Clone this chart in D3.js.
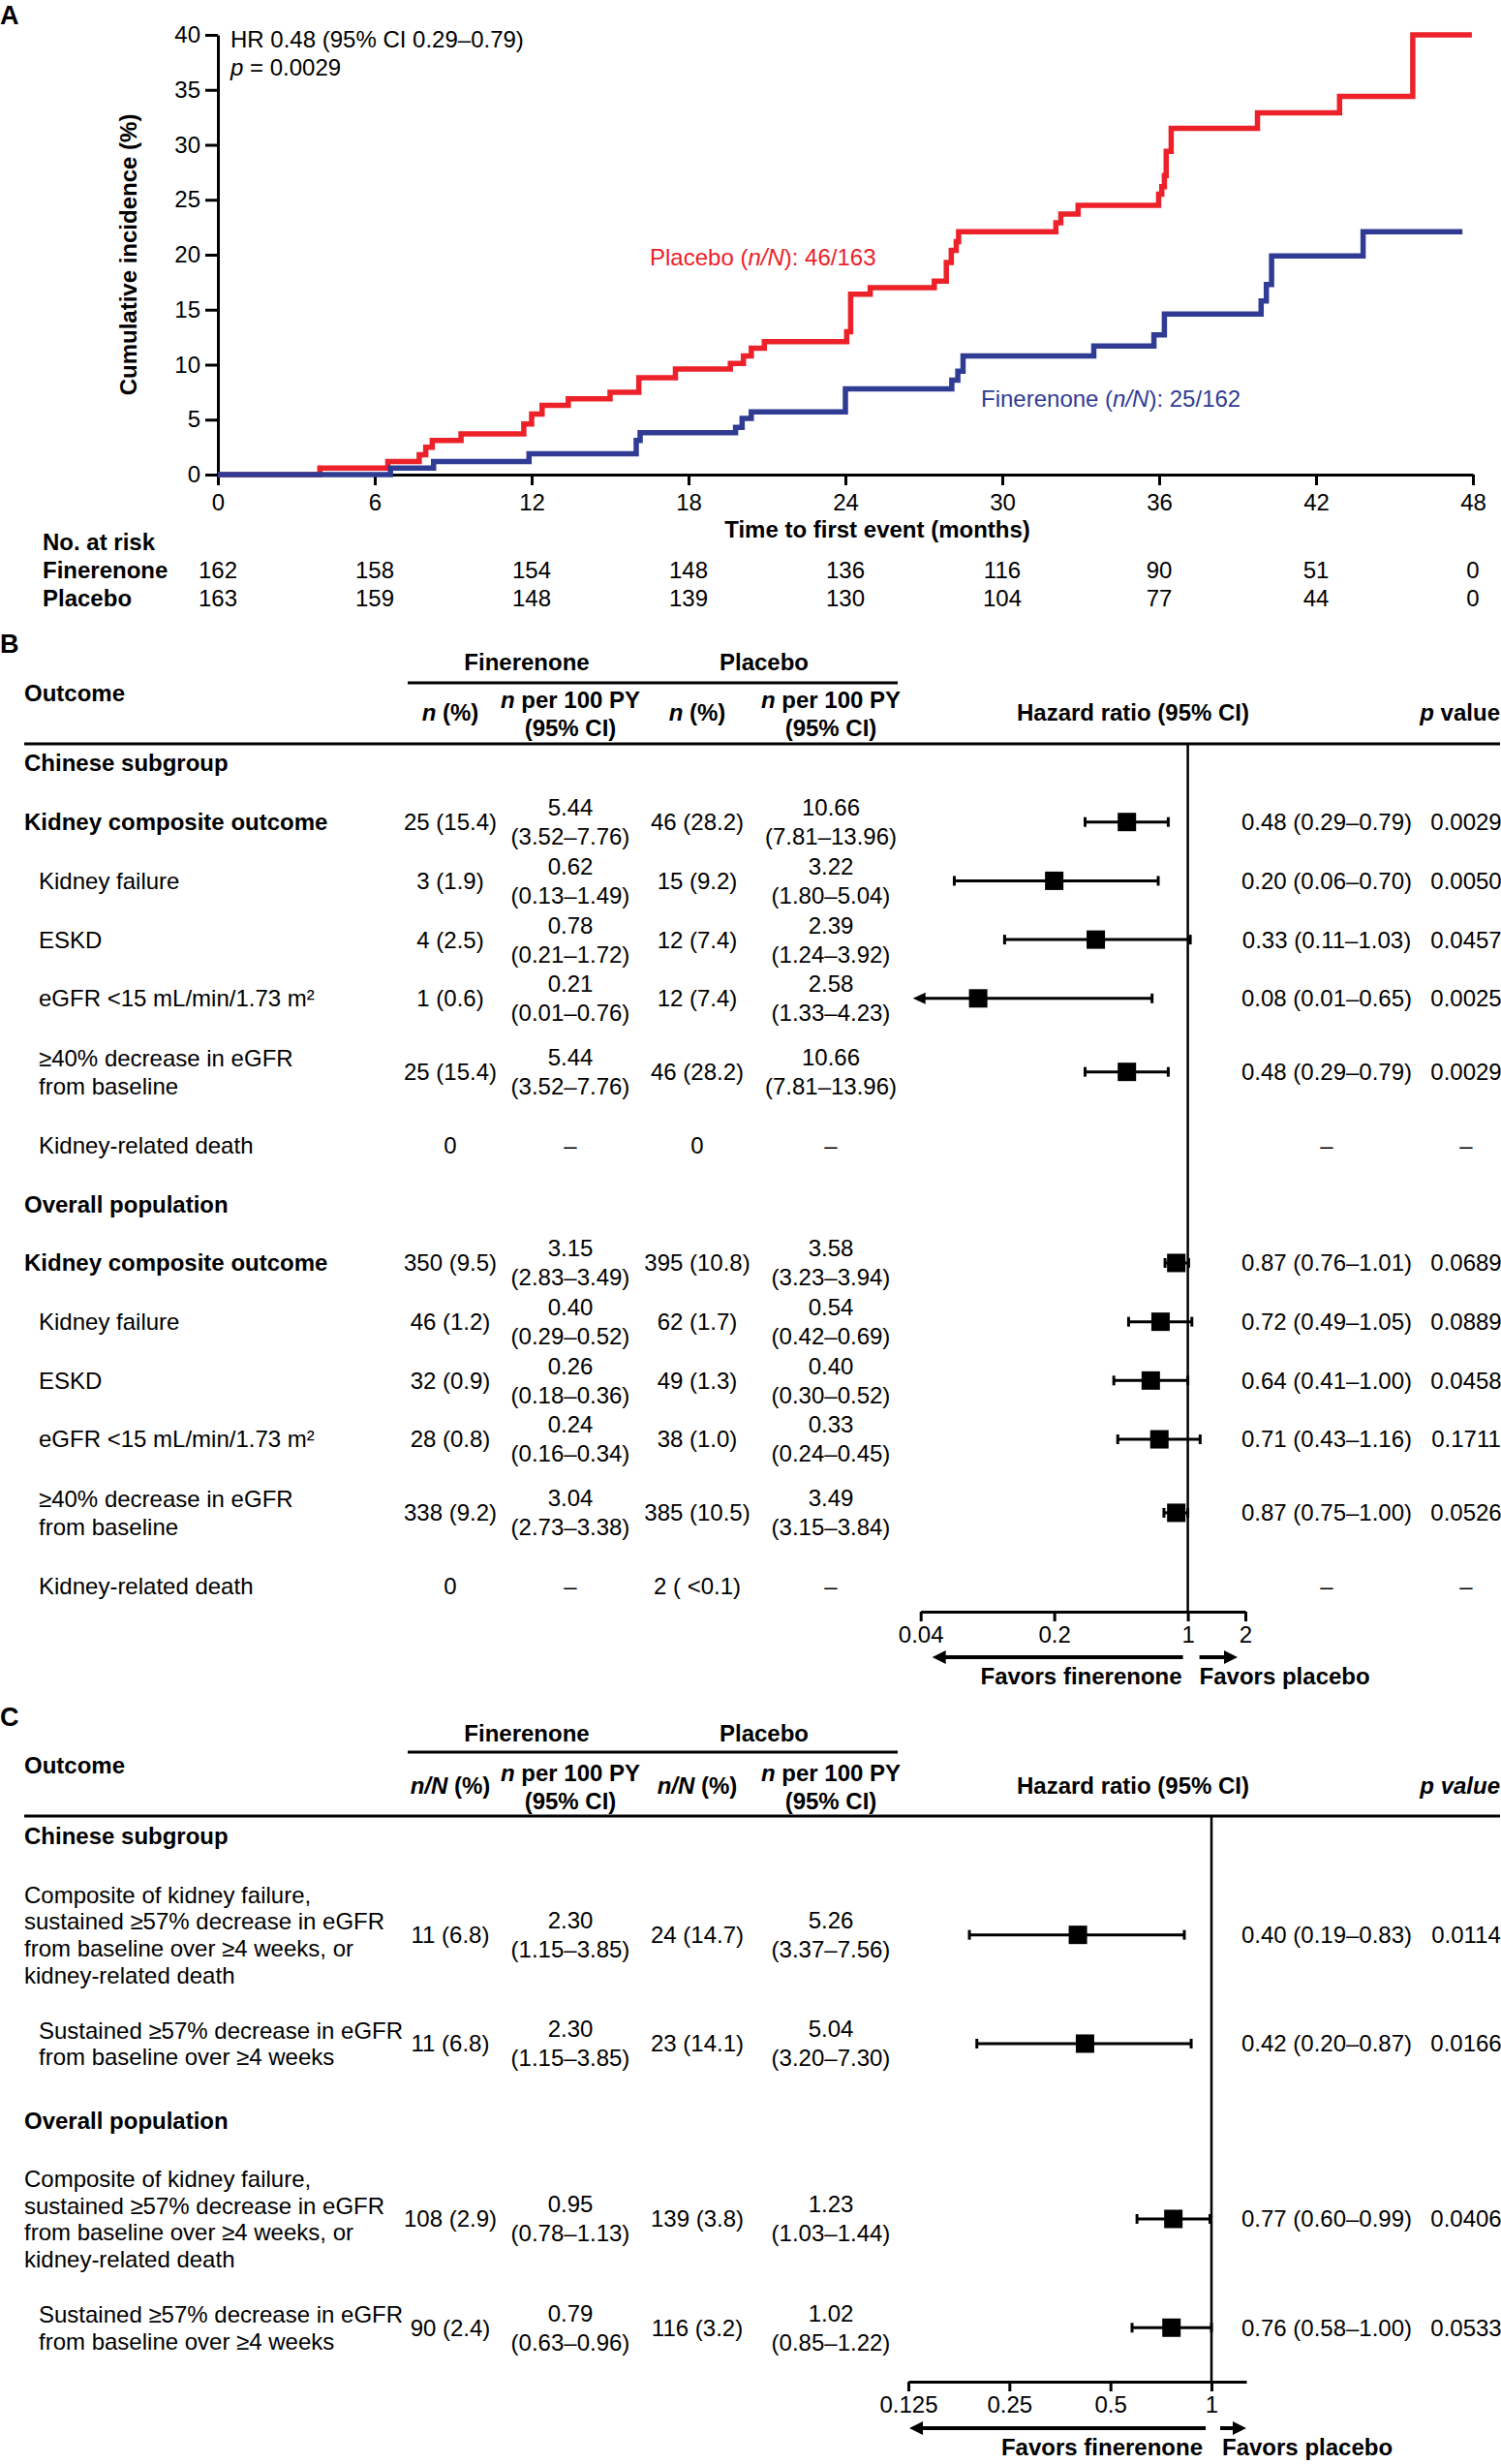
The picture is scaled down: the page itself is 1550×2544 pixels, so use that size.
<!DOCTYPE html>
<html><head><meta charset="utf-8">
<script src="https://cdn.jsdelivr.net/npm/d3@7"></script>
<style>
html,body{margin:0;padding:0;background:#fff;}
svg{display:block;font-family:"Liberation Sans",Arial,Helvetica,sans-serif;}
</style></head><body>
<svg id="chart" width="1550" height="2544"></svg>
<script>
// ================= DATA =================
// Panel A – Kaplan–Meier cumulative incidence
const kmMonthTicks = [0, 6, 12, 18, 24, 30, 36, 42, 48];
const kmPctTicks = [0, 5, 10, 15, 20, 25, 30, 35, 40];
const placeboTime = [0, 3.9, 6.5, 7.7, 7.95, 8.2, 9.3, 11.7, 12.0, 12.4, 13.4, 15.0, 16.1, 17.5, 19.6, 20.1, 20.4, 20.9,
  24.05, 24.2, 24.95, 27.4, 27.86, 28.05, 28.24, 28.33, 32.05, 32.24, 32.9, 35.98, 36.1, 36.2, 36.27, 36.46, 39.76, 42.9, 45.7];
const placeboCum = [0, 0.6, 1.2, 1.8, 2.5, 3.1, 3.7, 4.6, 5.5, 6.3, 6.9, 7.5, 8.8, 9.6, 10.1, 10.8, 11.5, 12.1,
  13.0, 16.4, 17.0, 17.6, 19.3, 20.4, 21.2, 22.1, 22.9, 23.7, 24.5, 25.5, 26.2, 27.2, 29.4, 31.5, 32.9, 34.4, 40.0];
const placeboEnd = 47.96;
const finerenoneTime = [0, 6.6, 8.25, 11.9, 16.0, 16.15, 19.8, 20.05, 20.4, 24.0, 28.07, 28.3, 28.5, 33.5, 35.8, 36.2, 39.9, 40.1, 40.3, 43.8];
const finerenoneCum = [0, 0.6, 1.2, 1.9, 3.1, 3.8, 4.3, 5.1, 5.7, 7.8, 8.6, 9.4, 10.8, 11.7, 12.7, 14.6, 15.8, 17.3, 19.9, 22.1];
const finerenoneEnd = 47.6;
const riskFinerenone = [162, 158, 154, 148, 136, 116, 90, 51, 0];
const riskPlacebo = [163, 159, 148, 139, 130, 104, 77, 44, 0];
const kmHRText = "HR 0.48 (95% CI 0.29–0.79)";
const kmPText = "0.0029";
const placeboNN = "46/163";
const finerenoneNN = "25/162";

// Panel B – kidney outcomes
const bGroups = ["Chinese subgroup", "Overall population"];
const bGroup = [0, 0, 0, 0, 0, 0, 1, 1, 1, 1, 1, 1];
const bKind = ["composite", "component", "component", "component", "component", "component",
               "composite", "component", "component", "component", "component", "component"];
const bLabel = ["Kidney composite outcome", "Kidney failure", "ESKD", "eGFR <15 mL/min/1.73 m²", "≥40% decrease in eGFR\nfrom baseline", "Kidney-related death",
                "Kidney composite outcome", "Kidney failure", "ESKD", "eGFR <15 mL/min/1.73 m²", "≥40% decrease in eGFR\nfrom baseline", "Kidney-related death"];
const bFinN = ["25 (15.4)", "3 (1.9)", "4 (2.5)", "1 (0.6)", "25 (15.4)", "0", "350 (9.5)", "46 (1.2)", "32 (0.9)", "28 (0.8)", "338 (9.2)", "0"];
const bFinRate = ["5.44", "0.62", "0.78", "0.21", "5.44", "–", "3.15", "0.40", "0.26", "0.24", "3.04", "–"];
const bFinRateCI = ["3.52–7.76", "0.13–1.49", "0.21–1.72", "0.01–0.76", "3.52–7.76", "", "2.83–3.49", "0.29–0.52", "0.18–0.36", "0.16–0.34", "2.73–3.38", ""];
const bPlaN = ["46 (28.2)", "15 (9.2)", "12 (7.4)", "12 (7.4)", "46 (28.2)", "0", "395 (10.8)", "62 (1.7)", "49 (1.3)", "38 (1.0)", "385 (10.5)", "2 ( <0.1)"];
const bPlaRate = ["10.66", "3.22", "2.39", "2.58", "10.66", "–", "3.58", "0.54", "0.40", "0.33", "3.49", "–"];
const bPlaRateCI = ["7.81–13.96", "1.80–5.04", "1.24–3.92", "1.33–4.23", "7.81–13.96", "", "3.23–3.94", "0.42–0.69", "0.30–0.52", "0.24–0.45", "3.15–3.84", ""];
const bHR = [0.48, 0.20, 0.33, 0.08, 0.48, null, 0.87, 0.72, 0.64, 0.71, 0.87, null];
const bLo = [0.29, 0.06, 0.11, 0.01, 0.29, null, 0.76, 0.49, 0.41, 0.43, 0.75, null];
const bHi = [0.79, 0.70, 1.03, 0.65, 0.79, null, 1.01, 1.05, 1.00, 1.16, 1.00, null];
const bP = ["0.0029", "0.0050", "0.0457", "0.0025", "0.0029", "–", "0.0689", "0.0889", "0.0458", "0.1711", "0.0526", "–"];
const bTicks = [0.04, 0.2, 1, 2];

// Panel C – 57% eGFR composite
const cGroups = ["Chinese subgroup", "Overall population"];
const cGroup = [0, 0, 1, 1];
const cKind = ["composite", "component", "composite", "component"];
const cLabel = ["Composite of kidney failure,\nsustained ≥57% decrease in eGFR\nfrom baseline over ≥4 weeks, or\nkidney-related death",
                "Sustained ≥57% decrease in eGFR\nfrom baseline over ≥4 weeks",
                "Composite of kidney failure,\nsustained ≥57% decrease in eGFR\nfrom baseline over ≥4 weeks, or\nkidney-related death",
                "Sustained ≥57% decrease in eGFR\nfrom baseline over ≥4 weeks"];
const cFinN = ["11 (6.8)", "11 (6.8)", "108 (2.9)", "90 (2.4)"];
const cFinRate = ["2.30", "2.30", "0.95", "0.79"];
const cFinRateCI = ["1.15–3.85", "1.15–3.85", "0.78–1.13", "0.63–0.96"];
const cPlaN = ["24 (14.7)", "23 (14.1)", "139 (3.8)", "116 (3.2)"];
const cPlaRate = ["5.26", "5.04", "1.23", "1.02"];
const cPlaRateCI = ["3.37–7.56", "3.20–7.30", "1.03–1.44", "0.85–1.22"];
const cHR = [0.40, 0.42, 0.77, 0.76];
const cLo = [0.19, 0.20, 0.60, 0.58];
const cHi = [0.83, 0.87, 0.99, 1.00];
const cP = ["0.0114", "0.0166", "0.0406", "0.0533"];
const cTicks = [0.125, 0.25, 0.5, 1];

// ================= DRAWING =================
const RED = "#ec2129", BLUE = "#303c94";
const FS = 24;
const svg = d3.select("#chart");
svg.append("rect").attr("width", 1550).attr("height", 2544).attr("fill", "#fff");

function addText(g, x, y, parts, opts = {}) {
  const t = g.append("text").attr("x", x).attr("y", y).attr("dy", "0.35em")
    .attr("font-size", opts.size || FS)
    .attr("text-anchor", opts.anchor || "start")
    .attr("font-weight", opts.bold ? "bold" : "normal")
    .attr("fill", opts.fill || "#000");
  if (typeof parts === "string") t.text(parts);
  else parts.forEach(p => { const s = t.append("tspan").text(p[0]); if (p[1]) s.attr("font-style", "italic"); });
  return t;
}
function styleAxis(a) {
  a.attr("font-size", FS).attr("font-family", null);
  a.selectAll("path,line").attr("stroke", "#000").attr("stroke-width", 3);
  a.selectAll("text").attr("fill", "#000");
}

// ---------- Panel A ----------
(function () {
  const g = svg.append("g");
  const x = d3.scaleLinear().domain([0, 48]).range([225, 1521]);
  const y = d3.scaleLinear().domain([0, 40]).range([490, 36]);
  addText(g, 0, 16, "A", { bold: true, size: 27 });

  const yAx = g.append("g").attr("transform", `translate(${x(0)},0)`)
    .call(d3.axisLeft(y).tickValues(kmPctTicks).tickSize(13).tickPadding(5).tickSizeOuter(0));
  const xAx = g.append("g").attr("transform", `translate(0,${y(0)})`)
    .call(d3.axisBottom(x).tickValues(kmMonthTicks).tickSize(11).tickPadding(9).tickSizeOuter(0));
  styleAxis(yAx); styleAxis(xAx);

  const step = d3.line().x(d => x(d[0])).y(d => y(d[1])).curve(d3.curveStepAfter);
  const pl = placeboTime.map((t, i) => [t, placeboCum[i]]);
  pl.push([placeboEnd, placeboCum[placeboCum.length - 1]]);
  const fi = finerenoneTime.map((t, i) => [t, finerenoneCum[i]]);
  fi.push([finerenoneEnd, finerenoneCum[finerenoneCum.length - 1]]);
  g.append("path").attr("d", step(pl)).attr("fill", "none").attr("stroke", RED).attr("stroke-width", 5.5).attr("stroke-linejoin", "miter");
  g.append("path").attr("d", step(fi)).attr("fill", "none").attr("stroke", BLUE).attr("stroke-width", 5.5).attr("stroke-linejoin", "miter");

  addText(g, 238, 41, kmHRText);
  addText(g, 238, 70, [["p", true], [" = " + kmPText, false]]);
  addText(g, 671, 266, [["Placebo (", false], ["n/N", true], ["): " + placeboNN, false]], { fill: RED });
  addText(g, 1013, 412, [["Finerenone (", false], ["n/N", true], ["): " + finerenoneNN, false]], { fill: BLUE });

  g.append("text").attr("transform", `translate(133,${(y(0) + y(40)) / 2}) rotate(-90)`)
    .attr("dy", "0.35em").attr("text-anchor", "middle").attr("font-weight", "bold").attr("font-size", FS)
    .text("Cumulative incidence (%)");
  addText(g, 906, 547, "Time to first event (months)", { bold: true, anchor: "middle" });

  addText(g, 44, 560, "No. at risk", { bold: true });
  addText(g, 44, 589, "Finerenone", { bold: true });
  addText(g, 44, 618, "Placebo", { bold: true });
  kmMonthTicks.forEach((m, i) => {
    addText(g, x(m), 589, String(riskFinerenone[i]), { anchor: "middle" });
    addText(g, x(m), 618, String(riskPlacebo[i]), { anchor: "middle" });
  });
})();

// ---------- Forest panels ----------
function drawForest(cfg, d) {
  const g = svg.append("g");
  const L = cfg.layout;
  addText(g, 0, L.letterY, cfg.letter, { bold: true, size: 27 });
  addText(g, 544, L.armY, "Finerenone", { bold: true, anchor: "middle" });
  addText(g, 789, L.armY, "Placebo", { bold: true, anchor: "middle" });
  g.append("line").attr("x1", 421).attr("x2", 927).attr("y1", L.underlineY).attr("y2", L.underlineY)
    .attr("stroke", "#000").attr("stroke-width", 3);
  addText(g, 25, L.outcomeY, "Outcome", { bold: true });
  [465, 720].forEach(xx => addText(g, xx, L.colY, cfg.nHead, { bold: true, anchor: "middle" }));
  [589, 858].forEach(xx => {
    addText(g, xx, L.colY - 13.5, [["n", true], [" per 100 PY", false]], { bold: true, anchor: "middle" });
    addText(g, xx, L.colY + 15.5, "(95% CI)", { bold: true, anchor: "middle" });
  });
  addText(g, 1170, L.colY, "Hazard ratio (95% CI)", { bold: true, anchor: "middle" });
  addText(g, 1549, L.colY, cfg.pHead, { bold: true, anchor: "end" });
  g.append("line").attr("x1", 25).attr("x2", 1549).attr("y1", L.headLineY).attr("y2", L.headLineY)
    .attr("stroke", "#000").attr("stroke-width", 3);

  // build row sequence
  const seq = [];
  d.groups.forEach((gn, gi) => {
    seq.push({ type: "group", text: gn });
    d.group.forEach((gg, i) => { if (gg === gi) seq.push({ type: "row", i: i, lines: d.label[i].split("\n") }); });
  });
  const hOf = s => s.type === "group" ? 1 : cfg.hBase + 0.5 * s.lines.length;
  let yy = L.startY;
  seq.forEach((s, k) => {
    if (k > 0) {
      yy += L.unit * (hOf(seq[k - 1]) + hOf(s)) / 2;
      if (s.type === "group") yy += cfg.groupGap;
    }
    s.y = yy;
  });

  const x = cfg.scale;
  const axisY = L.axisY;
  // reference line at HR = 1
  g.append("line").attr("x1", x(1)).attr("x2", x(1)).attr("y1", L.headLineY).attr("y2", axisY)
    .attr("stroke", "#000").attr("stroke-width", 2.5);

  const f2 = d3.format(".2f");
  seq.forEach(s => {
    if (s.type === "group") { addText(g, 25, s.y, s.text, { bold: true }); return; }
    const i = s.i;
    const main = d.kind[i] === "composite";
    const lx = main ? 25 : 40;
    const n = s.lines.length;
    s.lines.forEach((ln, j) => addText(g, lx, s.y + (j - (n - 1) / 2) * cfg.lineGap, ln, { bold: main && cfg.boldComposite }));
    addText(g, 465, s.y, d.finN[i], { anchor: "middle" });
    addText(g, 720, s.y, d.plaN[i], { anchor: "middle" });
    [[589, d.finRate[i], d.finRateCI[i]], [858, d.plaRate[i], d.plaRateCI[i]]].forEach(([cx, r, ci]) => {
      if (ci) {
        addText(g, cx, s.y - 15, r, { anchor: "middle" });
        addText(g, cx, s.y + 15, "(" + ci + ")", { anchor: "middle" });
      } else addText(g, cx, s.y, r, { anchor: "middle" });
    });
    const hr = d.hr[i];
    addText(g, 1370, s.y, hr == null ? "–" : `${f2(hr)} (${f2(d.lo[i])}–${f2(d.hi[i])})`, { anchor: "middle" });
    addText(g, 1514, s.y, d.p[i], { anchor: "middle" });
    if (hr == null) return;
    const dmin = x.domain()[0];
    const clipped = d.lo[i] < dmin;
    const xl = clipped ? x(dmin) - 8 : x(d.lo[i]);
    const xh = x(d.hi[i]);
    g.append("line").attr("x1", clipped ? xl + 8 : xl).attr("x2", xh).attr("y1", s.y).attr("y2", s.y)
      .attr("stroke", "#000").attr("stroke-width", 3);
    if (clipped) {
      g.append("path").attr("d", `M${xl},${s.y}L${xl + 13},${s.y - 6}L${xl + 13},${s.y + 6}Z`).attr("fill", "#000");
    } else {
      g.append("line").attr("x1", xl).attr("x2", xl).attr("y1", s.y - 5).attr("y2", s.y + 5).attr("stroke", "#000").attr("stroke-width", 3);
    }
    g.append("line").attr("x1", xh).attr("x2", xh).attr("y1", s.y - 5).attr("y2", s.y + 5).attr("stroke", "#000").attr("stroke-width", 3);
    g.append("rect").attr("x", x(hr) - 9.5).attr("y", s.y - 9.5).attr("width", 19).attr("height", 19).attr("fill", "#000");
  });

  // axis
  const ax = g.append("g").attr("transform", `translate(0,${axisY})`)
    .call(d3.axisBottom(x).tickValues(cfg.ticks).tickFormat(t => String(t)).tickSize(10).tickPadding(5).tickSizeOuter(0));
  styleAxis(ax);

  // favors arrows
  const ay = L.arrowY;
  const arrow = (x1, tip) => {
    const dir = tip < x1 ? -1 : 1;
    g.append("line").attr("x1", x1).attr("x2", tip - dir * 10).attr("y1", ay).attr("y2", ay).attr("stroke", "#000").attr("stroke-width", 4);
    g.append("path").attr("d", `M${tip},${ay}L${tip - dir * 14},${ay - 7}L${tip - dir * 14},${ay + 7}Z`).attr("fill", "#000");
  };
  arrow(x(1) - cfg.arrowGapL, cfg.leftTip);
  arrow(x(1) + cfg.arrowGapR, cfg.rightTip);
  addText(g, x(1) - cfg.textGapL, L.favY, "Favors finerenone", { bold: true, anchor: "end" });
  addText(g, x(1) + cfg.textGapR, L.favY, "Favors placebo", { bold: true, anchor: "start" });
}

const bScale = d3.scaleLog().domain([0.04, 2]).range([950.7, 1286]);
drawForest({
  letter: "B",
  nHead: [["n", true], [" (%)", false]],
  pHead: [["p", true], [" value", false]],
  scale: bScale, ticks: bTicks,
  hBase: 0.5, groupGap: 0, lineGap: 29, boldComposite: true,
  arrowGapL: 5, arrowGapR: 12, leftTip: bScale(0.04) + 12, rightTip: bScale(2) - 8,
  textGapL: 6, textGapR: 12,
  layout: { letterY: 665, armY: 684, underlineY: 705, outcomeY: 716, colY: 736, headLineY: 768,
            startY: 788, unit: 60.7, axisY: 1664, arrowY: 1711, favY: 1731 }
}, { groups: bGroups, group: bGroup, kind: bKind, label: bLabel, finN: bFinN, finRate: bFinRate, finRateCI: bFinRateCI,
     plaN: bPlaN, plaRate: bPlaRate, plaRateCI: bPlaRateCI, hr: bHR, lo: bLo, hi: bHi, p: bP });

const cScale = d3.scaleLog().base(2).domain([0.125, 1.27]).range([938, 1287]);
drawForest({
  letter: "C",
  nHead: [["n/N", true], [" (%)", false]],
  pHead: [["p value", true]],
  scale: cScale, ticks: cTicks,
  hBase: 0.35, groupGap: 8, lineGap: 27.7, boldComposite: false,
  arrowGapL: 6, arrowGapR: 9, leftTip: cScale(0.125) + 1, rightTip: cScale(1.27),
  textGapL: 9, textGapR: 11,
  layout: { letterY: 1773, armY: 1790, underlineY: 1809, outcomeY: 1823, colY: 1844, headLineY: 1875,
            startY: 1896, unit: 60.7, axisY: 2459, arrowY: 2507, favY: 2527 }
}, { groups: cGroups, group: cGroup, kind: cKind, label: cLabel, finN: cFinN, finRate: cFinRate, finRateCI: cFinRateCI,
     plaN: cPlaN, plaRate: cPlaRate, plaRateCI: cPlaRateCI, hr: cHR, lo: cLo, hi: cHi, p: cP });
</script>
</body></html>
